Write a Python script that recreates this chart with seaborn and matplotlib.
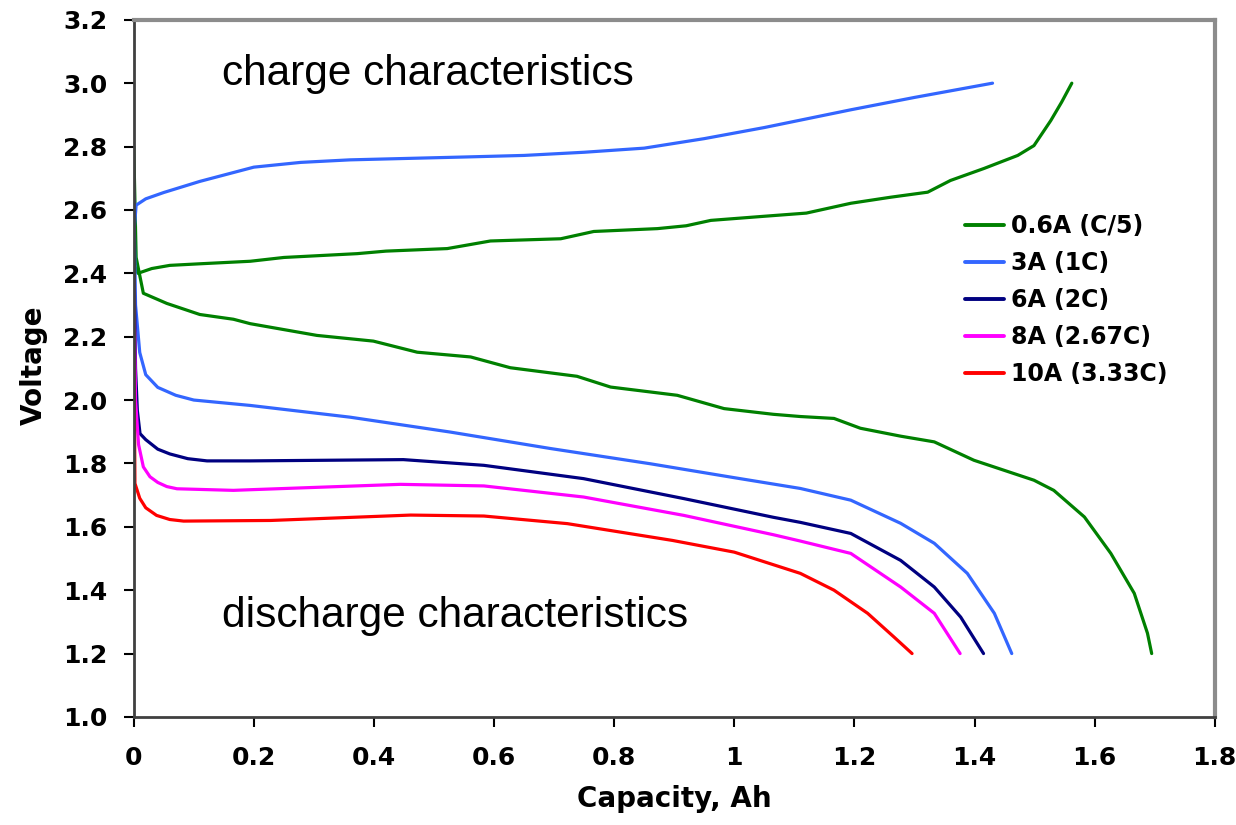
import pandas as pd
import matplotlib
matplotlib.use("Agg")
import matplotlib.pyplot as plt
import seaborn as sns

# ----------------------------------------
# Data (capacity Ah, voltage V)
# ----------------------------------------

series_names = ["0.6A (C/5)", "3A (1C)", "6A (2C)", "8A (2.67C)", "10A (3.33C)"]
series_colors = ["#008000", "#3366FF", "#000080", "#FF00FF", "#FF0000"]

# charge curves (only 0.6A and 3A)
chg_06_cap = [0.0, 0.007, 0.03, 0.06, 0.11, 0.194, 0.25, 0.372, 0.42, 0.522, 0.594, 0.711,
              0.766, 0.872, 0.92, 0.961, 1.05, 1.12, 1.194, 1.26, 1.322, 1.36, 1.416,
              1.472, 1.499, 1.527, 1.545, 1.562]
chg_06_v = [2.43, 2.40, 2.415, 2.425, 2.43, 2.438, 2.45, 2.462, 2.47, 2.478, 2.502, 2.509,
            2.532, 2.541, 2.55, 2.567, 2.58, 2.59, 2.621, 2.64, 2.656, 2.693, 2.731,
            2.772, 2.803, 2.882, 2.94, 3.0]

chg_3_cap = [0.0, 0.004, 0.02, 0.05, 0.11, 0.2, 0.278, 0.36, 0.444, 0.55, 0.65, 0.75, 0.85,
             0.95, 1.05, 1.194, 1.3, 1.43]
chg_3_v = [2.52, 2.615, 2.635, 2.655, 2.69, 2.735, 2.75, 2.758, 2.762, 2.767, 2.772, 2.782,
           2.795, 2.825, 2.86, 2.916, 2.955, 3.0]

# discharge curves
dis_06_cap = [0.0, 0.004, 0.016, 0.055, 0.11, 0.166, 0.194, 0.305, 0.399, 0.472, 0.561,
              0.627, 0.738, 0.794, 0.905, 0.983, 1.065, 1.11, 1.166, 1.21, 1.277, 1.333,
              1.399, 1.499, 1.532, 1.583, 1.627, 1.666, 1.688, 1.695]
dis_06_v = [2.8, 2.45, 2.337, 2.305, 2.27, 2.255, 2.241, 2.204, 2.186, 2.151, 2.136,
            2.102, 2.075, 2.041, 2.015, 1.973, 1.955, 1.948, 1.942, 1.911, 1.886, 1.868,
            1.81, 1.747, 1.715, 1.631, 1.516, 1.39, 1.264, 1.2]

dis_3_cap = [0.0, 0.003, 0.01, 0.02, 0.04, 0.07, 0.1, 0.194, 0.36, 0.527, 0.694, 0.86, 1.0,
             1.11, 1.194, 1.277, 1.333, 1.388, 1.433, 1.462]
dis_3_v = [2.66, 2.3, 2.15, 2.08, 2.04, 2.015, 2.0, 1.983, 1.946, 1.899, 1.847, 1.799, 1.755,
           1.721, 1.684, 1.611, 1.548, 1.453, 1.327, 1.2]

dis_6_cap = [0.0, 0.003, 0.006, 0.0105, 0.02, 0.04, 0.06, 0.09, 0.122, 0.194, 0.449, 0.583,
             0.749, 0.916, 1.065, 1.11, 1.194, 1.277, 1.333, 1.377, 1.415]
dis_6_v = [2.5, 2.1, 1.967, 1.894, 1.875, 1.845, 1.83, 1.815, 1.808, 1.808, 1.812, 1.794,
           1.752, 1.689, 1.63, 1.614, 1.579, 1.494, 1.41, 1.315, 1.2]

dis_8_cap = [0.0, 0.003, 0.008, 0.016, 0.027, 0.04, 0.055, 0.072, 0.166, 0.194, 0.444,
             0.583, 0.749, 0.916, 1.065, 1.11, 1.194, 1.277, 1.333, 1.376]
dis_8_v = [2.42, 2.0, 1.86, 1.789, 1.758, 1.74, 1.727, 1.72, 1.715, 1.717, 1.734,
           1.729, 1.694, 1.636, 1.575, 1.555, 1.516, 1.41, 1.327, 1.2]

dis_10_cap = [0.0, 0.002, 0.01, 0.02, 0.038, 0.06, 0.083, 0.228, 0.461, 0.583, 0.722,
              0.897, 1.0, 1.11, 1.166, 1.222, 1.266, 1.296]
dis_10_v = [2.3, 1.737, 1.69, 1.66, 1.636, 1.623, 1.618, 1.62, 1.637, 1.634, 1.61,
            1.557, 1.52, 1.453, 1.40, 1.327, 1.252, 1.2]

# ----------------------------------------
# Long table for seaborn
# ----------------------------------------

curves = [
    (series_names[0], "charge", chg_06_cap, chg_06_v),
    (series_names[1], "charge", chg_3_cap, chg_3_v),
    (series_names[0], "discharge", dis_06_cap, dis_06_v),
    (series_names[1], "discharge", dis_3_cap, dis_3_v),
    (series_names[2], "discharge", dis_6_cap, dis_6_v),
    (series_names[3], "discharge", dis_8_cap, dis_8_v),
    (series_names[4], "discharge", dis_10_cap, dis_10_v),
]
rows = []
for name, kind, cap, volt in curves:
    for c, v in zip(cap, volt):
        rows.append({"series": name, "curve": name + " " + kind, "capacity": c, "voltage": v})
df = pd.DataFrame(rows)

# ----------------------------------------
# Plot
# ----------------------------------------

sns.set_style("white")
plt.rcParams["font.family"] = ["DejaVu Sans"]
plt.rcParams["text.color"] = "black"
plt.rcParams["axes.labelcolor"] = "black"
plt.rcParams["xtick.color"] = "black"
plt.rcParams["ytick.color"] = "black"

fig = plt.figure(figsize=(12.36, 8.25), dpi=100)
ax = fig.add_axes([0.1082, 0.131, 0.8746, 0.845])

sns.lineplot(data=df, x="capacity", y="voltage", hue="series", units="curve",
             estimator=None, sort=False, hue_order=series_names,
             palette=dict(zip(series_names, series_colors)), linewidth=2.3, ax=ax)

ax.set_xlim(0, 1.8)
ax.set_ylim(1.0, 3.2)
xticks = [0, 0.2, 0.4, 0.6, 0.8, 1.0, 1.2, 1.4, 1.6, 1.8]
ax.set_xticks(xticks)
ax.set_xticklabels(["0", "0.2", "0.4", "0.6", "0.8", "1", "1.2", "1.4", "1.6", "1.8"])
yticks = [1.0, 1.2, 1.4, 1.6, 1.8, 2.0, 2.2, 2.4, 2.6, 2.8, 3.0, 3.2]
ax.set_yticks(yticks)
ax.set_yticklabels([f"{t:.1f}" for t in yticks])

ax.tick_params(axis="both", direction="out", length=7, width=1.5, color="black",
               labelcolor="black", labelsize=18, bottom=True, left=True)
ax.tick_params(axis="y", pad=12)
ax.tick_params(axis="x", pad=14)
for lab in ax.get_xticklabels() + ax.get_yticklabels():
    lab.set_fontweight("bold")

for side in ["left", "bottom"]:
    ax.spines[side].set_color("#404040")
    ax.spines[side].set_linewidth(2)
for side in ["top", "right"]:
    ax.spines[side].set_color("#8c8c8c")
    ax.spines[side].set_linewidth(3)

ax.set_xlabel("Capacity, Ah", fontsize=20, fontweight="bold", color="black")
ax.set_ylabel("Voltage", fontsize=20, fontweight="bold", color="black")
ax.xaxis.set_label_coords(0.50, -0.098)
ax.yaxis.set_label_coords(-0.079, 0.505)

ax.text(0.147, 3.03, "charge characteristics", fontsize=30.5, family="Liberation Sans",
        va="center", ha="left", color="black")
ax.text(0.147, 1.32, "discharge characteristics", fontsize=30.5, family="Liberation Sans",
        va="center", ha="left", color="black")

handles, labels = ax.get_legend_handles_labels()
leg = ax.legend(handles, labels, loc="upper left",
                bbox_to_anchor=(965 / 1236, 1 - 214 / 825),
                bbox_transform=fig.transFigure, frameon=False,
                prop={"size": 17, "weight": "bold"}, borderpad=0, borderaxespad=0,
                handlelength=1.65, handletextpad=0.3, labelspacing=0.55)
for line in leg.get_lines():
    line.set_linewidth(2.8)
for t in leg.get_texts():
    t.set_color("black")

fig.savefig("out.png", dpi=100)
plt.close(fig)
